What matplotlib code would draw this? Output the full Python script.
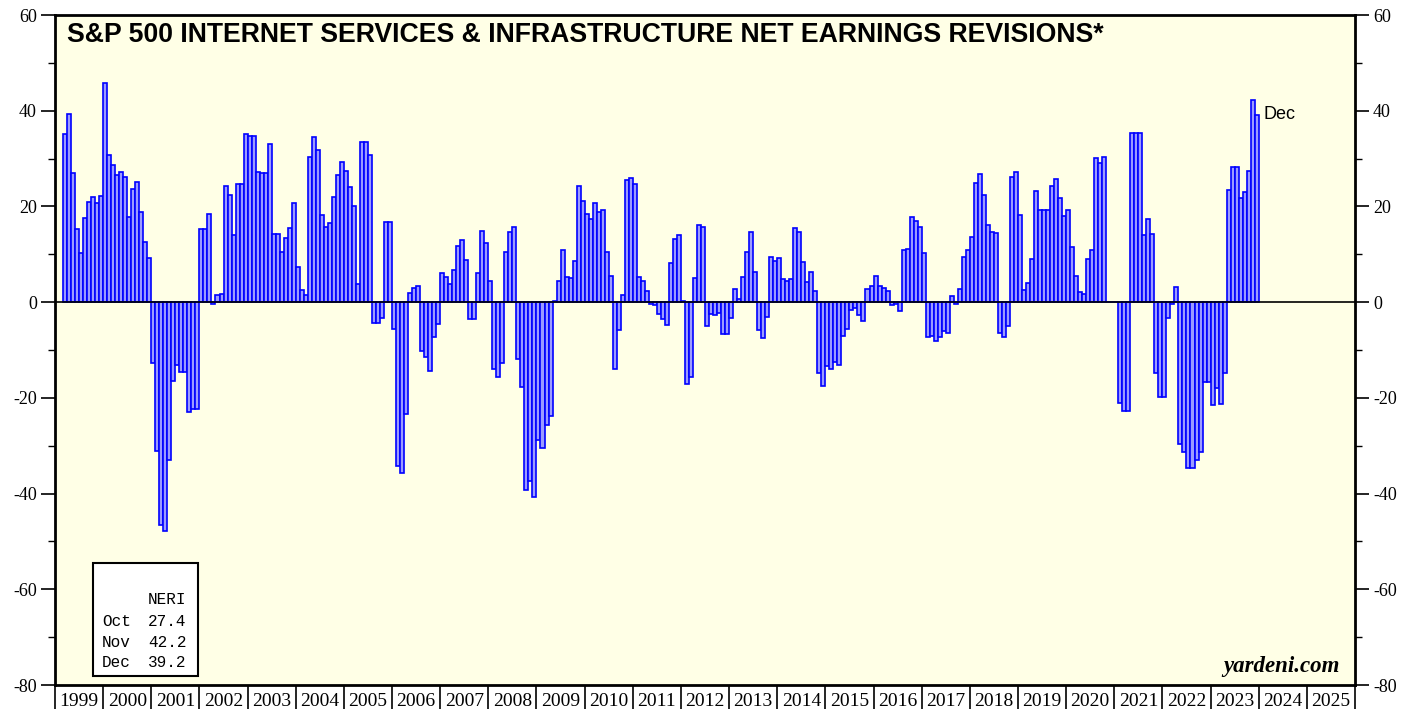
import matplotlib
matplotlib.use('Agg')
import matplotlib.pyplot as plt
from matplotlib.patches import Rectangle
from matplotlib.ticker import MultipleLocator, FixedLocator
import numpy as np

plt.rcParams['axes.unicode_minus'] = False

# monthly NERI values, Mar 1999 .. Dec 2023
start_year = 1999
start_month = 3
neri = [
    35.2, 39.4, 27.0, 15.3, 10.3, 17.5, 21.0, 21.9, 20.8, 22.2,                      # 1999
    45.7, 30.8, 28.6, 26.5, 27.2, 26.1, 17.7, 23.7, 25.1, 18.9, 12.5, 9.3,           # 2000
    -12.7, -31.1, -46.6, -47.8, -33.0, -16.4, -13.2, -14.6, -14.6, -23.0, -22.3, -22.3,  # 2001
    15.2, 15.2, 18.4, -0.4, 1.4, 1.6, 24.2, 22.4, 14.1, 24.7, 24.7, 35.2,            # 2002
    34.7, 34.7, 27.2, 27.0, 27.0, 33.1, 14.3, 14.3, 10.4, 13.3, 15.5, 20.8,          # 2003
    7.4, 2.6, 1.5, 30.4, 34.5, 31.8, 18.2, 15.6, 16.6, 22.0, 26.6, 29.3,             # 2004
    27.5, 24.1, 20.1, 3.7, 33.4, 33.4, 30.8, -4.3, -4.3, -3.3, 16.8, 16.8,           # 2005
    -5.6, -34.3, -35.8, -23.4, 2.0, 2.9, 3.4, -10.2, -11.5, -14.3, -7.3, -4.5,       # 2006
    6.0, 5.2, 3.7, 6.7, 11.8, 12.9, 8.9, -3.6, -3.6, 6.0, 14.8, 12.4,                # 2007
    4.5, -13.9, -15.6, -12.7, 10.5, 14.6, 15.6, -11.9, -17.7, -39.3, -37.4, -40.8,   # 2008
    -28.8, -30.4, -25.7, -23.8, 0.3, 4.5, 10.8, 5.3, 5.0, 8.5, 24.3, 21.2,           # 2009
    18.5, 17.3, 20.8, 18.8, 19.2, 10.4, 5.5, -14.0, -5.8, 1.5, 25.5, 25.9,           # 2010
    24.6, 5.3, 4.5, 2.4, -0.4, -0.7, -2.4, -3.6, -4.8, 8.1, 13.2, 14.1,              # 2011
    0.2, -17.2, -15.6, 5.1, 16.2, 15.7, -4.9, -2.4, -2.7, -2.2, -6.6, -6.6,          # 2012
    -3.3, 2.8, 0.7, 5.3, 10.5, 14.7, 6.3, -5.9, -7.5, -3.1, 9.5, 8.5,                # 2013
    9.3, 4.9, 4.5, 4.9, 15.5, 14.7, 8.4, 4.2, 6.3, 2.3, -14.8, -17.5,                # 2014
    -13.4, -14.0, -12.5, -13.2, -7.0, -5.7, -1.7, -1.3, -2.7, -3.9, 2.8, 3.4,        # 2015
    5.4, 3.3, 3.0, 2.3, -0.5, -0.3, -1.8, 10.9, 11.1, 17.8, 16.9, 15.7,              # 2016
    10.3, -7.3, -7.0, -8.2, -7.3, -6.1, -6.5, 1.3, -0.3, 2.8, 9.5, 10.9,             # 2017
    13.6, 24.9, 26.7, 22.4, 16.2, 14.7, 14.4, -6.4, -7.2, -5.0, 26.1, 27.2,          # 2018
    18.2, 2.5, 4.0, 9.1, 23.2, 19.3, 19.2, 19.2, 24.2, 25.7, 21.8, 18.0,             # 2019
    19.2, 11.6, 5.5, 2.2, 1.8, 9.1, 11.0, 30.2, 29.0, 30.4, 0.0, 0.0,                # 2020
    0.0, -21.1, -22.7, -22.7, 35.4, 35.4, 35.4, 14.1, 17.4, 14.3, -14.9, -19.8,      # 2021
    -19.9, -3.3, -0.3, 3.1, -29.7, -31.3, -34.7, -34.7, -33.0, -31.3, -16.6, -16.6,  # 2022
    -21.4, -17.9, -21.2, -14.9, 23.5, 28.3, 28.3, 21.7, 23.1, 27.4, 42.2, 39.2,      # 2023
]
legend_months = ['Oct', 'Nov', 'Dec']
legend_values = [27.4, 42.2, 39.2]
years = list(range(1999, 2026))

x = start_year + (start_month - 1 + np.arange(len(neri))) / 12.0

fig = plt.figure(figsize=(14.16, 7.17), dpi=100)
ax = fig.add_axes([55 / 1416, 32 / 717, 1300 / 1416, 670 / 717])
ax.set_facecolor('#FFFFE6')

ax.bar(x, neri, width=1 / 12, align='edge', color='#9C9CFF', edgecolor='#0000FF', linewidth=1.2, zorder=2)
ax.axhline(0, color='black', linewidth=1.2, zorder=3)

ax.set_xlim(1999, 2026)
ax.set_ylim(-80, 60)

serif = 'Liberation Serif'
ax.yaxis.set_major_locator(MultipleLocator(20))
ax.yaxis.set_minor_locator(MultipleLocator(10))
ax.tick_params(axis='y', which='major', direction='out', length=10, width=1.2,
               labelsize=13, left=True, right=True, labelleft=True, labelright=True, pad=3)
ax.tick_params(axis='y', which='minor', direction='out', length=5, width=1, left=True, right=True)
for lab in ax.get_yticklabels():
    lab.set_fontfamily(serif)

ax.xaxis.set_major_locator(FixedLocator(years + [2026]))
ax.xaxis.set_major_formatter(plt.NullFormatter())
ax.set_xticks([y + 0.5 for y in years], [str(y) for y in years], minor=True)
ax.tick_params(axis='x', which='major', direction='out', length=17, width=1.2)
ax.tick_params(axis='x', which='minor', length=0, labelsize=14, pad=6)
for lab in ax.get_xticklabels(minor=True):
    lab.set_fontfamily(serif)

for s in ax.spines.values():
    s.set_linewidth(2)

ax.text(0.009, 0.970, 'S&P 500 INTERNET SERVICES & INFRASTRUCTURE NET EARNINGS REVISIONS*',
        transform=ax.transAxes, fontsize=19.2, fontweight='bold', family='Liberation Sans',
        ha='left', va='center')
ax.text(2024.1, 39.2, 'Dec', fontsize=13, family='Liberation Sans', ha='left', va='center')
ax.text(0.988, 0.028, 'yardeni.com', transform=ax.transAxes, fontsize=16.5, family=serif,
        fontweight='bold', fontstyle='italic', ha='right', va='center')

# small NERI table
box = Rectangle((0.0292, 0.013), 0.081, 0.169, transform=ax.transAxes,
                facecolor='white', edgecolor='black', linewidth=1.5, zorder=4)
ax.add_patch(box)
mono = 'Liberation Mono'
ax.text(0.101, 0.127, 'NERI', transform=ax.transAxes, family=mono, fontsize=11.5,
        ha='right', va='center', zorder=5)
for i, (mname, val) in enumerate(zip(legend_months, legend_values)):
    yy = 0.095 - i * 0.031
    ax.text(0.036, yy, mname, transform=ax.transAxes, family=mono, fontsize=11.5,
            ha='left', va='center', zorder=5)
    ax.text(0.101, yy, f'{val:.1f}', transform=ax.transAxes, family=mono, fontsize=11.5,
            ha='right', va='center', zorder=5)

fig.savefig('out.png', dpi=100)
